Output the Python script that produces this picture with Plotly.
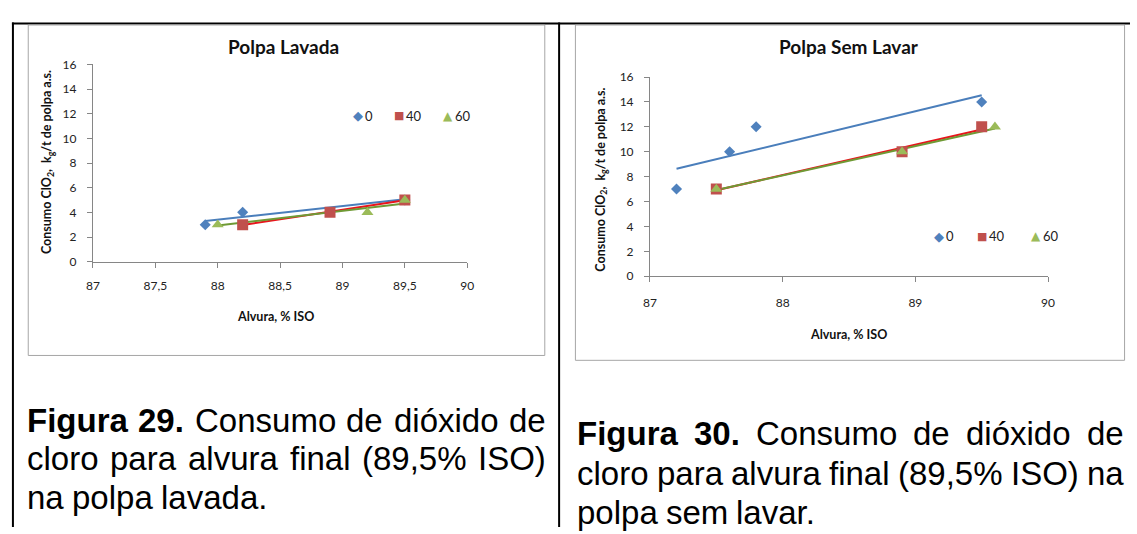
import numpy as np
import plotly.graph_objects as go

W, H = 1137, 534

# Polpa Lavada (washed pulp): brightness (% ISO) vs ClO2 consumption (kg/t)
lav_x0 = [87.9, 88.2, 89.5]
lav_y0 = [3, 4, 5]
lav_x40 = [88.2, 88.9, 89.5]
lav_y40 = [3, 4, 5]
lav_x60 = [88.0, 89.2, 89.5]
lav_y60 = [3, 4, 5]

# Polpa Sem Lavar (unwashed pulp)
sem_x0 = [87.2, 87.6, 87.8, 89.5]
sem_y0 = [7, 10, 12, 14]
sem_x40 = [87.5, 88.9, 89.5]
sem_y40 = [7, 10, 12]
sem_x60 = [87.5, 88.9, 89.6]
sem_y60 = [7, 10, 12]

series_names = ["0", "40", "60"]
marker_colors = ["#4f81bd", "#c0504d", "#9bbb59"]
marker_symbols = ["diamond", "square", "triangle-up"]
marker_sizes = [8.5, 11, 10.5]
legend_glyphs = ["\u25C6", "\u25A0", "\u25B2"]
trend_colors = ["#4a7ebb", "#e8141c", "#6f9a35"]

AX_FONT = "Lato, 'Open Sans', sans-serif"
CAP_FONT = "'Liberation Sans', Arial, sans-serif"
SYM_FONT = "'DejaVu Sans', sans-serif"


def px_x(x):
    return x / W


def px_y(y):
    return 1 - y / H


fig = go.Figure()

panels = [
    ("x", "y", [(lav_x0, lav_y0), (lav_x40, lav_y40), (lav_x60, lav_y60)]),
    ("x2", "y2", [(sem_x0, sem_y0), (sem_x40, sem_y40), (sem_x60, sem_y60)]),
]

for xa, ya, data in panels:
    # linear trendlines first so the markers sit on top
    for (xs, ys), col in zip(data, trend_colors):
        k, b = np.polyfit(xs, ys, 1)
        xl = np.array([min(xs), max(xs)])
        fig.add_trace(go.Scatter(
            x=xl, y=k * xl + b, mode="lines", xaxis=xa, yaxis=ya,
            line=dict(color=col, width=2), showlegend=False, hoverinfo="skip"))
    for (xs, ys), name, mc, ms, sz in zip(data, series_names, marker_colors,
                                          marker_symbols, marker_sizes):
        fig.add_trace(go.Scatter(
            x=xs, y=ys, mode="markers", name=name, xaxis=xa, yaxis=ya, showlegend=False,
            marker=dict(color=mc, symbol=ms, size=sz, line=dict(width=0))))

axis_common = dict(
    showgrid=False, zeroline=False, showline=True, linecolor="#868686", linewidth=1,
    ticks="outside", ticklen=5, tickcolor="#868686",
    tickfont=dict(family=AX_FONT, size=12, color="#222222"),
)

fig.update_layout(
    width=W, height=H, autosize=False,
    margin=dict(l=0, r=0, t=0, b=0),
    paper_bgcolor="white", plot_bgcolor="white",
    separators=", ",
    showlegend=False,
    xaxis=dict(domain=[px_x(87), px_x(466)], range=[87, 90], dtick=0.5,
               anchor="y", ticklabelstandoff=8, **axis_common),
    yaxis=dict(domain=[px_y(261), px_y(58)], range=[0, 16], dtick=2,
               anchor="x", ticklabelstandoff=8, **axis_common),
    xaxis2=dict(domain=[px_x(651), px_x(1054)], range=[87, 90], dtick=1,
                anchor="y2", ticklabelstandoff=10, **axis_common),
    yaxis2=dict(domain=[px_y(276), px_y(71)], range=[0, 16], dtick=2,
                anchor="x2", ticklabelstandoff=8, **axis_common),
)

shapes = []
# table rules
shapes.append(dict(type="line", xref="paper", yref="paper", x0=px_x(5), x1=1,
                   y0=px_y(16), y1=px_y(16), line=dict(color="black", width=2)))
shapes.append(dict(type="line", xref="paper", yref="paper", x0=px_x(6), x1=px_x(6),
                   y0=px_y(15), y1=0, line=dict(color="black", width=2)))
shapes.append(dict(type="line", xref="paper", yref="paper", x0=px_x(559), x1=px_x(559),
                   y0=px_y(15), y1=0, line=dict(color="black", width=2)))
# chart frames
shapes.append(dict(type="rect", xref="paper", yref="paper", x0=px_x(21.5), x1=px_x(544.5),
                   y0=px_y(17.5), y1=px_y(357.5), line=dict(color="#a6a6a6", width=1)))
shapes.append(dict(type="rect", xref="paper", yref="paper", x0=px_x(575.5), x1=px_x(1131.5),
                   y0=px_y(17.5), y1=px_y(362.5), line=dict(color="#a6a6a6", width=1)))
fig.update_layout(shapes=shapes)

ann = []


def text(x, y, s, size, family=AX_FONT, angle=0, color="#111111", xanchor="center"):
    ann.append(dict(x=px_x(x), y=px_y(y), xref="paper", yref="paper", text=s,
                    showarrow=False, textangle=angle, xanchor=xanchor, yanchor="middle",
                    borderpad=0, borderwidth=0,
                    font=dict(family=family, size=size, color=color)))


# chart titles
text(280, 40, "<b>Polpa Lavada</b>", 19)
text(853, 40, "<b>Polpa Sem Lavar</b>", 19)
# axis titles
ytitle = "<b>Consumo ClO<sub>2</sub>,  k<sub>g</sub>/t de polpa a.s.</b>"
text(41, 158, ytitle, 12.5, angle=-90)
text(601, 177, ytitle, 12.5, angle=-90)
text(272, 317, "<b>Alvura, % ISO</b>", 12.5)
text(852, 336, "<b>Alvura, % ISO</b>", 12.5)

# legends: symbol glyph + series label
legend_pos = [
    (111, [355, 397, 447]),
    (235, [943.5, 987.5, 1041.5]),
]
glyph_sizes = [13, 11, 12]
for ly, xs in legend_pos:
    for gx, g, gc, gs, name in zip(xs, legend_glyphs, marker_colors, glyph_sizes, series_names):
        text(gx, ly, g, gs, family=SYM_FONT, color=gc)
        text(gx + 7, ly, name, 13, color="#222222", xanchor="left")

# figure captions, justified like the document body text
W_REG = {" ": 278, "C": 722, "o": 556, "n": 556, "s": 500, "u": 556, "m": 833,
         "d": 556, "e": 556, "i": 222, "ó": 556, "x": 500, "c": 500, "l": 222,
         "r": 333, "p": 556, "a": 556, "v": 500, "f": 278, "(": 333, ")": 333,
         "8": 556, "9": 556, ",": 278, "5": 556, "%": 889, "I": 278, "S": 667,
         "O": 778, ".": 278}
W_BOLD = {" ": 278, "F": 611, "i": 278, "g": 611, "u": 611, "r": 389, "a": 556,
          "2": 556, "9": 556, "3": 556, "0": 556, ".": 278}
CAP_SIZE = 33


def word_width(w, bold):
    table = W_BOLD if bold else W_REG
    return sum(table[ch] for ch in w) * CAP_SIZE / 1000


def caption_line(words, x0, x1, y, justify):
    widths = [word_width(w, b) for w, b in words]
    if justify and len(words) > 1:
        gap = (x1 - x0 - sum(widths)) / (len(words) - 1)
    else:
        gap = W_REG[" "] * CAP_SIZE / 1000
    x = x0
    for (w, b), wd in zip(words, widths):
        s = f"<b>{w}</b>" if b else w
        text(x, y, s, CAP_SIZE, family=CAP_FONT, color="black", xanchor="left")
        x += wd + gap


def split(s, bold_first=0):
    parts = s.split(" ")
    return [(p, i < bold_first) for i, p in enumerate(parts)]


cap_l = [split("Figura 29. Consumo de dióxido de", 2),
         split("cloro para alvura final (89,5% ISO)"),
         split("na polpa lavada.")]
cap_r = [split("Figura 30. Consumo de dióxido de", 2),
         split("cloro para alvura final (89,5% ISO) na"),
         split("polpa sem lavar.")]
for i, words in enumerate(cap_l):
    caption_line(words, 20, 545, 424 + 40 * i, justify=(i < 2))
for i, words in enumerate(cap_r):
    caption_line(words, 577, 1130, 438 + 40.5 * i, justify=(i < 2))

fig.update_layout(annotations=ann)
fig.write_html("out.html")
